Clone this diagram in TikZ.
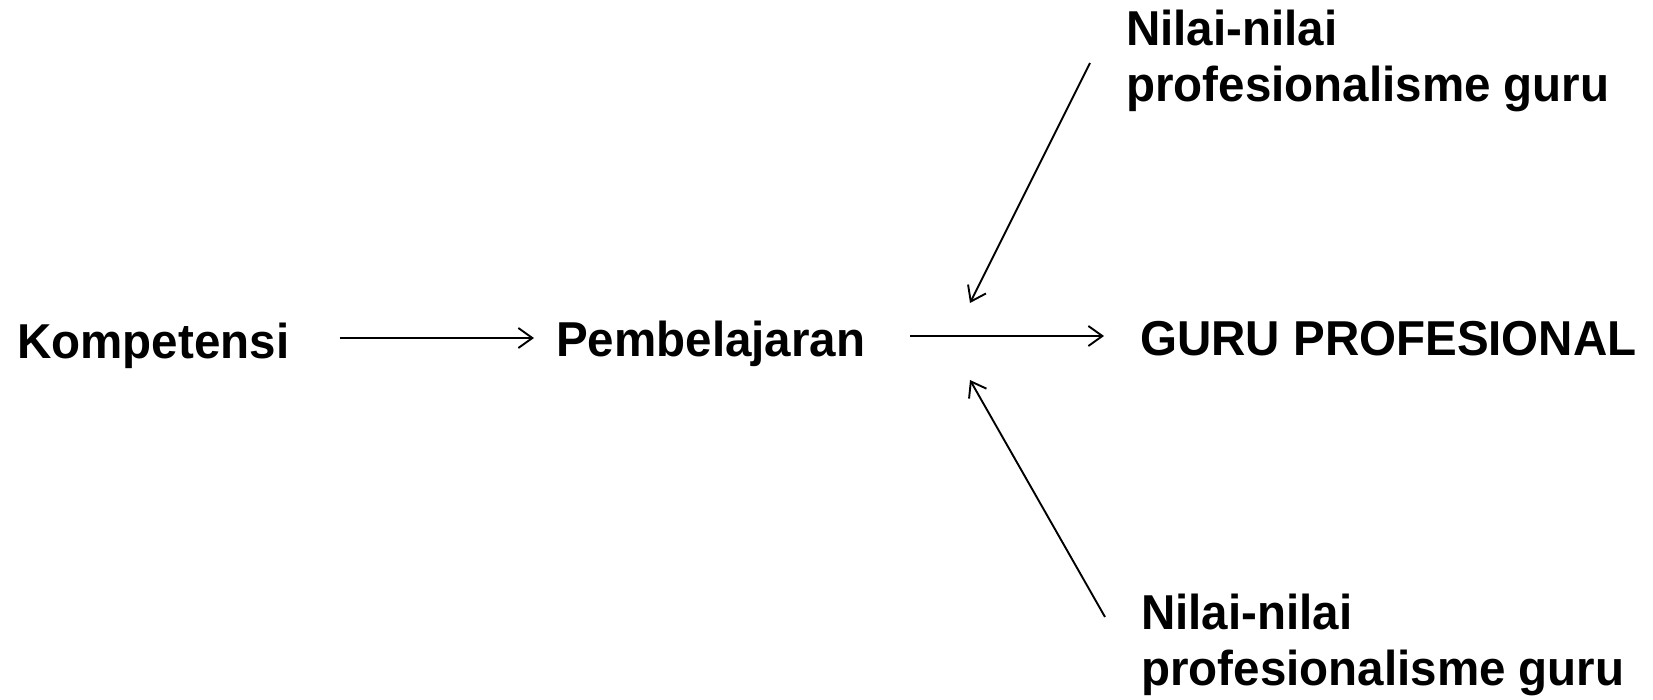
\documentclass[tikz,border=0pt]{standalone}
\usepackage{fontspec}
\setmainfont{Liberation Sans}[FakeStretch=0.97]
\usetikzlibrary{arrows.meta}
\begin{document}
\begin{tikzpicture}[x=1pt,y=-1pt,
  lbl/.style={font=\fontsize{49}{56}\selectfont\bfseries, inner sep=0pt, anchor=base west},
  mlbl/.style={font=\fontsize{49}{56}\selectfont\bfseries, inner sep=0pt, anchor=north west, align=left},
  arr/.style={line width=1.9pt, -{Straight Barb[length=14pt,width=20pt,line width=1.9pt]}}]
\useasboundingbox (0,0) rectangle (1653,699);
\node[lbl] (komp) at (17,358) {Kompetensi};
\node[lbl] (pemb) at (556,356) {Pembelajaran};
\node[lbl] (guru) at (1140,355) {GURU PROFESIONAL};
\node[mlbl] (top) at (1126,10) {Nilai-nilai\\profesionalisme guru};
\node[mlbl] (bot) at (1141,594) {Nilai-nilai\\profesionalisme guru};
\coordinate (a1s) at (340,338);
\coordinate (a1e) at (534,338);
\coordinate (a2s) at (910,336);
\coordinate (a2e) at (1104,336);
\coordinate (t1s) at (1090,63);
\coordinate (t1e) at (970,303);
\coordinate (b1s) at (1105,617);
\coordinate (b1e) at (970,380);
\draw[arr] (a1s) -- (a1e);
\draw[arr] (a2s) -- (a2e);
\draw[arr] (t1s) -- (t1e);
\draw[arr] (b1s) -- (b1e);
\end{tikzpicture}
\end{document}
